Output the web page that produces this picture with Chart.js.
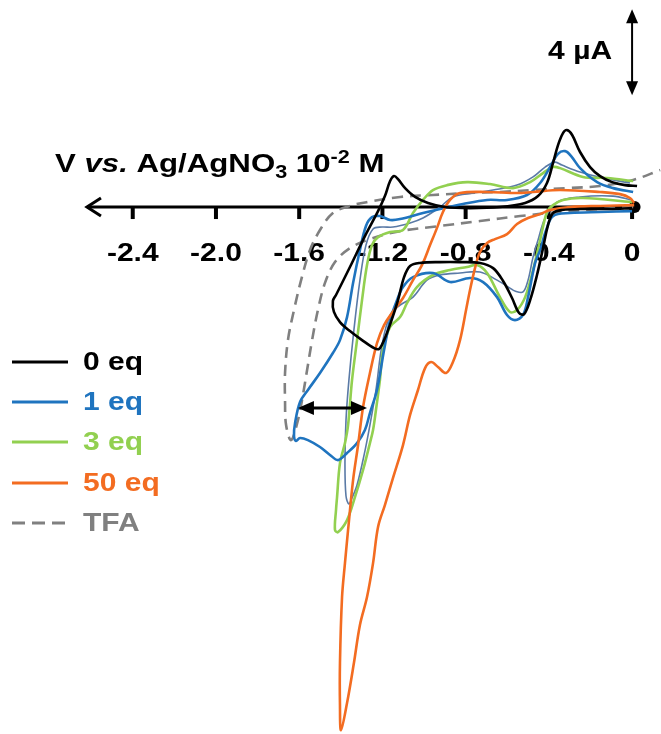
<!DOCTYPE html>
<html>
<head>
<meta charset="utf-8">
<script src="https://cdn.jsdelivr.net/npm/chart.js@4.4.1/dist/chart.umd.min.js"></script>
<style>
  body { margin: 0; background: #fff; }
  canvas { display: block; }
</style>
</head>
<body>
<canvas id="cv_graph" width="661" height="734"></canvas>
<script>
// potential (V vs Ag/AgNO3 10-2 M) and current (uA, reduction = negative, drawn downward)
const tick_values = [-2.4, -2.0, -1.6, -1.2, -0.8, -0.4, 0];
const tick_labels = ["-2.4", "-2.0", "-1.6", "-1.2", "-0.8", "-0.4", "0"];
const legend_names = ["0 eq", "1 eq", "3 eq", "50 eq", "TFA"];
const scale_bar_ua = 4;

const eq0_v = [0, -0.106, -0.226, -0.337, -0.38, -0.404, -0.428, -0.457, -0.49, -0.519, -0.543, -0.577, -0.62, -0.668, -0.731, -0.827, -0.923, -1.019, -1.067, -1.096, -1.125, -1.159, -1.192, -1.216, -1.24, -1.298, -1.356, -1.404, -1.433, -1.438, -1.423,
  -1.356, -1.284, -1.221, -1.188, -1.163, -1.144, -1.125, -1.091, -1.043, -0.981, -0.899, -0.779, -0.635, -0.514, -0.452, -0.409, -0.38, -0.356, -0.332, -0.313, -0.288, -0.25, -0.202, -0.154, -0.096, -0.034, 0.024];
const eq0_i = [-0.05, -0.09, -0.09, -0.14, -0.28, -0.84, -1.91, -3.16, -4.33, -4.98, -4.93, -4.23, -3.44, -2.84, -2.60, -2.56, -2.56, -2.60, -2.74, -3.26, -4.33, -5.35, -6.19, -6.60, -6.56, -6.19, -5.77, -5.35, -4.88, -4.37, -4.09,
  -2.79, -1.35, -0.19, 0.51, 1.21, 1.44, 1.30, 0.88, 0.47, 0.19, 0, -0.05, 0, 0.19, 0.51, 1.12, 2.05, 2.88, 3.44, 3.58, 3.35, 2.56, 1.86, 1.44, 1.16, 1.02, 0.98];

const eq1_v = [0, -0.154, -0.298, -0.38, -0.413, -0.442, -0.466, -0.5, -0.524, -0.563, -0.601, -0.649, -0.716, -0.779, -0.875, -0.957, -1.053, -1.101, -1.13, -1.163, -1.192, -1.226, -1.26, -1.284, -1.322, -1.37, -1.413, -1.452, -1.5, -1.558, -1.596, -1.615, -1.625,
  -1.62, -1.596, -1.558, -1.5, -1.438, -1.404, -1.37, -1.341, -1.308, -1.279, -1.25, -1.212, -1.163, -1.115, -1.005, -0.923, -0.813, -0.697, -0.601, -0.505, -0.442, -0.394, -0.356, -0.322, -0.293, -0.25, -0.168, -0.091, 0.005];
const eq1_i = [-0.19, -0.23, -0.28, -0.42, -1.07, -2.00, -2.60, -4.19, -5.02, -5.26, -5.02, -4.19, -3.49, -3.30, -3.49, -3.07, -3.26, -3.72, -4.33, -5.26, -6.65, -8.51, -9.58, -10.37, -10.98, -11.44, -11.77, -11.53, -11.16, -10.84, -10.74, -10.88, -10.65,
  -10.05, -9.07, -8.51, -7.72, -6.79, -6.19, -5.12, -3.53, -2.00, -0.88, -0.47, -0.42, -0.60, -0.56, -0.28, -0.09, 0.14, 0.33, 0.33, 0.56, 1.12, 1.86, 2.47, 2.60, 2.37, 1.81, 1.16, 0.88, 0.70];

// thin grey-blue trace (not in the legend)
const eq2_v = [0, -0.091, -0.25, -0.361, -0.418, -0.452, -0.476, -0.5, -0.524, -0.563, -0.587, -0.649, -0.731, -0.827, -0.923, -0.986, -1.053, -1.115, -1.163, -1.202, -1.231, -1.26, -1.288, -1.322, -1.346, -1.361,
  -1.375, -1.38, -1.375, -1.361, -1.337, -1.308, -1.279, -1.245, -1.202, -1.149, -1.067, -1.005, -0.923, -0.861, -0.764, -0.668, -0.553, -0.476, -0.418, -0.37, -0.337, -0.25, -0.139, -0.01];
const eq2_i = [0.33, 0.51, 0.47, 0.23, -0.51, -1.53, -2.33, -3.40, -3.95, -3.91, -3.77, -3.40, -3.02, -3.07, -3.16, -3.40, -4.19, -4.56, -5.02, -6.42, -8.51, -10.14, -11.53, -12.93, -13.53, -13.81,
  -13.44, -11.91, -9.91, -8.05, -5.72, -3.40, -1.77, -1.02, -0.93, -0.93, -0.74, -0.51, 0, 0.47, 0.65, 0.79, 1.02, 1.40, 1.86, 2.09, 1.95, 1.63, 1.35, 1.12];

const eq3_v = [0, -0.236, -0.332, -0.38, -0.409, -0.442, -0.476, -0.514, -0.553, -0.587, -0.635, -0.697, -0.745, -0.793, -0.875, -0.957, -1.034, -1.082, -1.115, -1.163, -1.197, -1.212, -1.231, -1.245, -1.26, -1.293, -1.332, -1.37, -1.413, -1.428,
  -1.423, -1.418, -1.404, -1.38, -1.365, -1.346, -1.322, -1.298, -1.274, -1.25, -1.221, -1.163, -1.101, -1.053, -1.005, -0.957, -0.889, -0.793, -0.683, -0.572, -0.49, -0.428, -0.38, -0.346, -0.236, -0.12, 0.005];
const eq3_i = [0.23, 0.42, 0.33, 0.09, -0.23, -1.53, -2.93, -4.19, -4.79, -4.88, -4.19, -3.07, -2.70, -2.79, -2.93, -3.16, -3.72, -4.47, -5.12, -5.58, -6.65, -8.05, -9.44, -10.37, -10.98, -12.23, -13.49, -14.56, -15.12, -15.02,
  -14.09, -13.49, -11.91, -10.98, -10.14, -8.05, -6.19, -4.33, -2.70, -1.77, -1.40, -1.16, -1.07, -0.28, 0.33, 0.79, 1.02, 1.16, 1.07, 0.88, 1.16, 1.58, 1.86, 1.81, 1.40, 1.35, 1.21];

const eq50_v = [0.01, -0.154, -0.298, -0.394, -0.442, -0.5, -0.553, -0.601, -0.659, -0.697, -0.731, -0.755, -0.779, -0.798, -0.827, -0.861, -0.894, -0.933, -0.966, -0.995, -1.029, -1.067, -1.101, -1.149, -1.188, -1.221, -1.245, -1.274, -1.308, -1.337, -1.37, -1.399,
  -1.404, -1.404, -1.394, -1.38, -1.365, -1.341, -1.317, -1.293, -1.26, -1.226, -1.192, -1.154, -1.101, -1.053, -1.01, -0.971, -0.938, -0.909, -0.875, -0.827, -0.697, -0.553, -0.476, -0.346, -0.154, -0.058, -0.01, 0.01];
const eq50_i = [0.09, 0.05, 0, -0.14, -0.33, -0.51, -0.79, -1.26, -1.49, -1.67, -2.09, -2.84, -3.86, -4.79, -6.19, -7.21, -7.72, -7.44, -7.21, -7.49, -8.51, -9.67, -11.07, -12.60, -13.86, -14.88, -16.56, -18.14, -19.44, -21.21, -23.07, -24.33,
  -23.16, -21.21, -18.14, -16.56, -15.02, -12.70, -11.07, -9.30, -7.72, -6.33, -5.49, -4.93, -4.23, -3.40, -2.70, -1.77, -0.98, -0.23, 0.33, 0.65, 0.70, 0.65, 0.70, 0.79, 0.70, 0.60, 0.42, 0.19];

const tfa_v = [0.005, -0.154, -0.346, -0.538, -0.731, -0.923, -1.115, -1.26, -1.356, -1.428, -1.476, -1.51, -1.538, -1.562, -1.582, -1.606, -1.639,
  -1.663, -1.668, -1.668, -1.654, -1.625, -1.587, -1.548, -1.5, -1.438, -1.356, -1.274, -1.115, -0.957, -0.793, -0.635, -0.476, -0.313, -0.154, 0.005, 0.135];
const tfa_i = [0, -0.09, -0.23, -0.42, -0.65, -0.88, -1.12, -1.49, -1.91, -2.56, -3.53, -4.79, -6.19, -7.58, -8.74, -9.91, -10.84,
  -10.14, -8.98, -7.72, -6.19, -4.79, -3.26, -2.00, -1.07, -0.28, 0.05, 0.23, 0.47, 0.56, 0.65, 0.70, 0.79, 0.88, 0.98, 1.26, 1.72];

const FONT = "'Liberation Sans', Arial, sans-serif";
const STRETCH = 1.2;

function pts(vs, is) {
  return vs.map((v, k) => ({ x: v, y: is[k] }));
}

function curve(data, color, width, dash) {
  return {
    data: data,
    showLine: true,
    borderColor: color,
    borderWidth: width,
    borderDash: dash || [],
    pointRadius: 0,
    tension: 0.35,
    fill: false,
  };
}

const datasets = [
  curve(pts(eq0_v, eq0_i), "#000000", 2.6),
  curve(pts(eq50_v, eq50_i), "#f36c21", 2.6),
  curve(pts(eq1_v, eq1_i), "#1f74bf", 2.6),
  curve(pts(eq3_v, eq3_i), "#92d050", 2.6),
  curve(pts(eq2_v, eq2_i), "#5a7aa6", 1.6),
  curve(pts(tfa_v, tfa_i), "#808080", 2.6, [11, 7]),
];
const legend_colors = ["#000000", "#1f74bf", "#92d050", "#f36c21", "#808080"];

function stretchText(ctx, txt, x, y, font, align) {
  ctx.save();
  ctx.translate(x, y);
  ctx.scale(STRETCH, 1);
  ctx.font = font;
  ctx.textAlign = align || "left";
  ctx.fillText(txt, 0, 0);
  ctx.restore();
}

function arrowHead(ctx, tx, ty, dx, dy, len, half) {
  // filled triangle with tip at (tx,ty) pointing along (dx,dy)
  const bx = tx - dx * len, by = ty - dy * len;
  ctx.beginPath();
  ctx.moveTo(tx, ty);
  ctx.lineTo(bx - dy * half, by + dx * half);
  ctx.lineTo(bx + dy * half, by - dx * half);
  ctx.closePath();
  ctx.fill();
}

const axisPlugin = {
  id: "cvAxis",
  beforeDatasetsDraw(chart) {
    const ctx = chart.ctx;
    const xs = chart.scales.x, ys = chart.scales.y;
    const y0 = ys.getPixelForValue(0);
    ctx.save();
    ctx.strokeStyle = "#000";
    ctx.fillStyle = "#000";
    ctx.lineWidth = 3;
    // axis line with open arrow at the negative end
    const xl = xs.getPixelForValue(-2.62), xr = xs.getPixelForValue(0.012);
    ctx.beginPath();
    ctx.moveTo(xr, y0);
    ctx.lineTo(xl, y0);
    ctx.stroke();
    ctx.beginPath();
    ctx.moveTo(xl + 14, y0 - 9);
    ctx.lineTo(xl, y0);
    ctx.lineTo(xl + 14, y0 + 9);
    ctx.stroke();
    ctx.beginPath();
    ctx.arc(xr, y0, 6, 0, Math.PI * 2);
    ctx.fill();
    // ticks + labels
    ctx.lineWidth = 4;
    ctx.textBaseline = "middle";
    tick_values.forEach((v, k) => {
      const px = xs.getPixelForValue(v);
      ctx.beginPath();
      ctx.moveTo(px, y0);
      ctx.lineTo(px, y0 + 12);
      ctx.stroke();
      stretchText(ctx, tick_labels[k], px, y0 + 47, "bold 25px " + FONT, "center");
    });
    ctx.restore();
  },
  afterDatasetsDraw(chart) {
    const ctx = chart.ctx;
    const xs = chart.scales.x, ys = chart.scales.y;
    ctx.save();
    ctx.fillStyle = "#000";
    ctx.strokeStyle = "#000";

    // axis title
    ctx.textBaseline = "alphabetic";
    const parts = [
      { t: "V ", f: "bold 26px ", dy: 0 },
      { t: "vs.", f: "italic bold 26px ", dy: 0 },
      { t: " Ag/AgNO", f: "bold 26px ", dy: 0 },
      { t: "3", f: "bold 18px ", dy: 6 },
      { t: " 10", f: "bold 26px ", dy: 0 },
      { t: "-2", f: "bold 18px ", dy: -9 },
      { t: " M", f: "bold 26px ", dy: 0 },
    ];
    ctx.save();
    ctx.translate(55, 172);
    ctx.scale(STRETCH, 1);
    let cx = 0;
    for (const p of parts) {
      ctx.font = p.f + FONT;
      ctx.fillText(p.t, cx, p.dy);
      cx += ctx.measureText(p.t).width;
    }
    ctx.restore();

    // 4 uA scale bar
    const sx = xs.getPixelForValue(0);
    const sTop = ys.getPixelForValue(5.2 + scale_bar_ua), sBot = ys.getPixelForValue(5.2);
    ctx.lineWidth = 2;
    ctx.beginPath();
    ctx.moveTo(sx, sTop + 10);
    ctx.lineTo(sx, sBot - 10);
    ctx.stroke();
    arrowHead(ctx, sx, sTop, 0, -1, 14, 6);
    arrowHead(ctx, sx, sBot, 0, 1, 14, 6);
    ctx.textBaseline = "middle";
    stretchText(ctx, scale_bar_ua + " \u00b5A", sx - 20, (sTop + sBot) / 2, "bold 25px " + FONT, "right");

    // double arrow showing the shift
    const ay = ys.getPixelForValue(-9.35);
    const a1 = xs.getPixelForValue(-1.606), a2 = xs.getPixelForValue(-1.274);
    ctx.lineWidth = 3;
    ctx.beginPath();
    ctx.moveTo(a1 + 10, ay);
    ctx.lineTo(a2 - 10, ay);
    ctx.stroke();
    arrowHead(ctx, a1, ay, -1, 0, 16, 7);
    arrowHead(ctx, a2, ay, 1, 0, 16, 7);

    // legend
    const ly = [362, 402, 442, 483, 523];
    legend_names.forEach((name, k) => {
      ctx.strokeStyle = legend_colors[k];
      ctx.fillStyle = legend_colors[k];
      ctx.lineWidth = 3;
      ctx.setLineDash(k === 4 ? [13, 7] : []);
      ctx.beginPath();
      ctx.moveTo(12, ly[k]);
      ctx.lineTo(68, ly[k]);
      ctx.stroke();
      ctx.setLineDash([]);
      ctx.textBaseline = "middle";
      stretchText(ctx, name, 83, ly[k] + 1, "bold 25px " + FONT, "left");
    });
    ctx.restore();
  },
};

new Chart(document.getElementById("cv_graph"), {
  type: "scatter",
  data: { datasets: datasets },
  options: {
    responsive: false,
    animation: false,
    devicePixelRatio: 1,
    layout: { padding: 0 },
    scales: {
      x: { type: "linear", min: -3.038, max: 0.139, display: false },
      y: { type: "linear", min: -24.51, max: 9.63, display: false },
    },
    plugins: {
      legend: { display: false },
      tooltip: { enabled: false },
    },
  },
  plugins: [axisPlugin],
});
</script>
</body>
</html>
